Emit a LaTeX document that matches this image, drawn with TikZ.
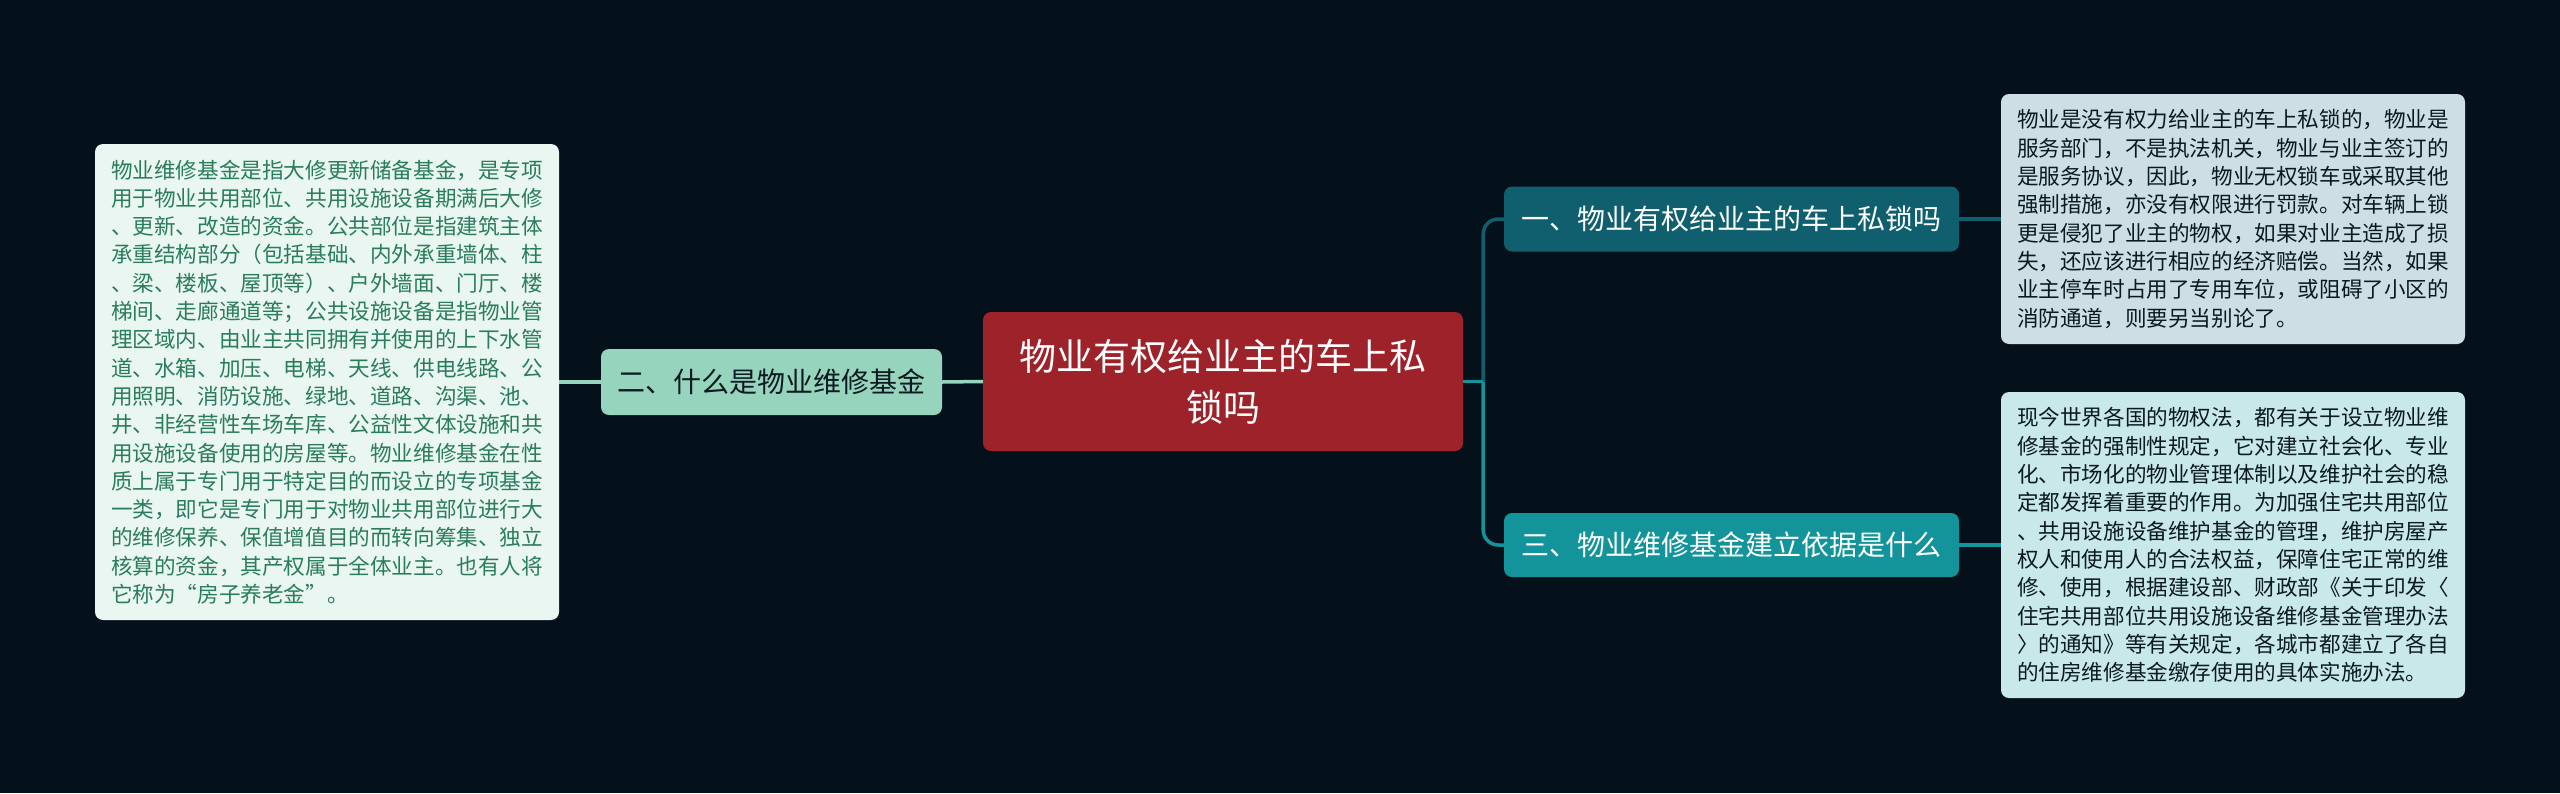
\documentclass[tikz,border=0pt]{standalone}
\usepackage{fontspec}
\setmainfont{Noto Sans CJK SC}
\definecolor{bgc}{HTML}{04111A}
\definecolor{cred}{HTML}{9E2229}
\definecolor{mint}{HTML}{96D4BD}
\definecolor{tealdark}{HTML}{0F5F6F}
\definecolor{tealmid}{HTML}{12949A}
\definecolor{rtbox}{HTML}{CDDFE4}
\definecolor{rbbox}{HTML}{C9E8EA}
\definecolor{lbox}{HTML}{E9F6F2}
\definecolor{ltext}{HTML}{2A7D5A}
\definecolor{dtext}{HTML}{0B1A20}
\tikzset{
  basebox/.style={rectangle, rounded corners=8pt, inner sep=0pt, align=left},
  smalltext/.style={font=\fontsize{21.6}{28.3}\selectfont},
  branchtext/.style={font=\fontsize{28}{34}\selectfont},
  conn/.style={line width=3.5pt},
}
\begin{document}
\begin{tikzpicture}[x=1pt,y=-1pt]
\useasboundingbox (0,0) rectangle (2560,793);
\fill[bgc] (0,0) rectangle (2560,793);

% central
\node[basebox, fill=cred, text=white, align=center, minimum width=480pt, minimum height=139pt,
  font=\fontsize{37}{51}\selectfont] (c) at (1223,381.5) {物业有权给业主的车上私\\锁吗};

% branches
\node[basebox, fill=mint, text=dtext, minimum width=341pt, minimum height=66pt, branchtext] (two) at (771.5,382) {二、什么是物业维修基金};
\node[basebox, fill=tealdark, text=white, minimum width=455pt, minimum height=65pt, branchtext] (one) at (1731.5,219) {一、物业有权给业主的车上私锁吗};
\node[basebox, fill=tealmid, text=white, minimum width=455pt, minimum height=64pt, branchtext] (three) at (1731.5,545) {三、物业维修基金建立依据是什么};

% leaves
\node[basebox, fill=lbox, text=ltext, minimum width=464pt, minimum height=476pt, smalltext] (lb) at (327,382) {物业维修基金是指大修更新储备基金，是专项\\
用于物业共用部位、共用设施设备期满后大修\\
、更新、改造的资金。公共部位是指建筑主体\\
承重结构部分（包括基础、内外承重墙体、柱\\
、梁、楼板、屋顶等）、户外墙面、门厅、楼\\
梯间、走廊通道等；公共设施设备是指物业管\\
理区域内、由业主共同拥有并使用的上下水管\\
道、水箱、加压、电梯、天线、供电线路、公\\
用照明、消防设施、绿地、道路、沟渠、池、\\
井、非经营性车场车库、公益性文体设施和共\\
用设施设备使用的房屋等。物业维修基金在性\\
质上属于专门用于特定目的而设立的专项基金\\
一类，即它是专门用于对物业共用部位进行大\\
的维修保养、保值增值目的而转向筹集、独立\\
核算的资金，其产权属于全体业主。也有人将\\
它称为“房子养老金”。};

\node[basebox, fill=rtbox, text=dtext, minimum width=464pt, minimum height=250pt, smalltext] (rt) at (2233,219) {物业是没有权力给业主的车上私锁的，物业是\\
服务部门，不是执法机关，物业与业主签订的\\
是服务协议，因此，物业无权锁车或采取其他\\
强制措施，亦没有权限进行罚款。对车辆上锁\\
更是侵犯了业主的物权，如果对业主造成了损\\
失，还应该进行相应的经济赔偿。当然，如果\\
业主停车时占用了专用车位，或阻碍了小区的\\
消防通道，则要另当别论了。};

\node[basebox, fill=rbbox, text=dtext, minimum width=464pt, minimum height=306pt, smalltext] (rb) at (2233,545) {现今世界各国的物权法，都有关于设立物业维\\
修基金的强制性规定，它对建立社会化、专业\\
化、市场化的物业管理体制以及维护社会的稳\\
定都发挥着重要的作用。为加强住宅共用部位\\
、共用设施设备维护基金的管理，维护房屋产\\
权人和使用人的合法权益，保障住宅正常的维\\
修、使用，根据建设部、财政部《关于印发〈\\
住宅共用部位共用设施设备维修基金管理办法\\
〉的通知》等有关规定，各城市都建立了各自\\
的住房维修基金缴存使用的具体实施办法。};

% connectors
\path (c.east) ++(20,0) coordinate (j);
\draw[conn, mint] (c.west) -- (two.east);
\draw[conn, mint] (two.west) -- (lb.east);
\draw[conn, tealdark, rounded corners=15pt] (j) |- (one.west);
\draw[conn, tealmid, rounded corners=15pt] (j) |- (three.west);
\draw[conn, tealmid] (c.east) -- (j);
\draw[conn, tealdark] (one.east) -- (rt.west);
\draw[conn, tealmid] (three.east) -- (rb.west);
\end{tikzpicture}
\end{document}
